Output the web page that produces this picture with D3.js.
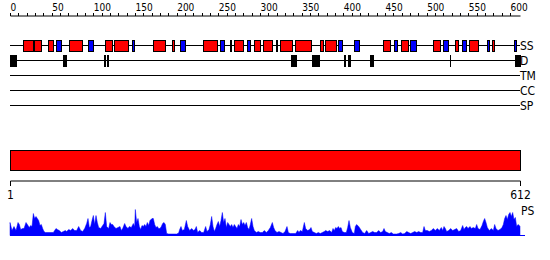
<!DOCTYPE html>
<html>
<head>
<meta charset="utf-8">
<script src="https://cdn.jsdelivr.net/npm/d3@7"></script>
<style>
  body { margin: 0; background: #fff; }
  text { font-family: "DejaVu Sans Condensed", "DejaVu Sans", sans-serif; font-stretch: condensed; fill: #000; }
</style>
</head>
<body>
<div class="chart"></div>
<script>
// sequence length and feature segments [start, end] in residues
var seqLength = 612;
var rulerLabels = [0, 50, 100, 150, 200, 250, 300, 350, 400, 450, 500, 550, 600];
var trackNames = ["SS", "D", "TM", "CC", "SP"];

var helices = [[16, 27], [29, 37], [46, 52], [71, 86], [114, 122], [125, 142], [171, 186], [194, 197],
  [231, 248], [269, 280], [293, 300], [304, 314], [324, 338], [342, 361], [372, 376], [378, 391],
  [448, 456], [469, 477], [507, 516], [534, 537], [551, 562], [578, 581]];
var strands = [[55, 61], [94, 99], [146, 149], [204, 210], [252, 257], [284, 288], [394, 398],
  [413, 419], [461, 464], [480, 487], [520, 526], [542, 547], [572, 575], [605, 607]];
var turns = [[264, 265], [319, 320]];
var disorder = [[0, 7], [64, 67], [113, 114], [116, 118], [337, 343], [362, 371], [401, 402],
  [405, 408], [432, 436], [528, 528], [606, 612]];
var domains = [[1, 612]];
var endLabels = [1, 612];

// PS profile: residue positions and scores
var psPos = [0, 2.4, 4.8, 7.2, 9.6, 11.2, 12.8, 15.2, 16.8, 19.2, 21.6, 23.2, 24.8, 26.4, 28, 29.6,
  31.2, 32.8, 34.4, 36, 37.6, 39.2, 40.8, 42.4, 52, 55.2, 56.8, 59.2, 61.6, 64, 66.4, 68, 70.4, 72.8,
  75.2, 77.6, 80, 82.4, 84.8, 87.2, 89.6, 92, 93.6, 95.2, 96.8, 98.4, 100, 101.6, 103.2, 104.8, 106.4,
  108.8, 111.2, 112.8, 114.4, 116, 118.4, 120, 121.6, 123.2, 124.8, 127.2, 129.6, 132, 133.6, 135.2,
  137.6, 139.2, 141.6, 143.2, 145.6, 148, 149.6, 150.4, 152, 153.6, 155.2, 156.8, 158.4, 160, 161.6,
  163.2, 164.8, 166.4, 168, 170.4, 172, 173.6, 175.2, 176.8, 178.4, 180, 181.6, 183.2, 184.8, 186.4,
  188, 190.4, 200, 202.4,
  203.6, 205.2, 206.8, 209.2, 211.6, 213.2, 215.6, 218, 220.4, 222, 223.6, 225.2, 227.6, 230, 232.4,
  234.8, 236.4, 238.8, 240.4, 242, 243.6, 245.2, 246.8, 248.4, 250, 251.6, 253.2, 254.8, 256.4, 258,
  259.6, 261.2, 262.8, 264.4, 266, 267.6, 269.2, 270.8, 272.4, 274, 275.6, 277.2, 278.8, 280.4, 282,
  283.6, 285.2, 286.8, 288.4, 290, 291.6, 293.2, 295.6, 298, 300.4, 302.8, 305.2, 307.6, 310, 312.4,
  314.8, 316.4, 318, 320.4, 322.8, 325.2, 327.6, 330, 332.4, 334, 336.4, 342.8, 345.2, 346.8, 348.4,
  350.8, 353.2, 354.8, 357.2, 359.6, 361.2, 362.8, 365.2, 367.6, 370, 372.4, 374.8, 377.2, 378.8,
  381.2, 383.6, 386, 387.6, 389.2, 390.8, 392.4, 394, 395.6, 397.2, 398.8, 401.2, 403.6, 405.2, 406.8,
  408.4, 410.8, 413.2,
  414.4, 416, 418.4, 420.8, 423.2, 425.6, 428, 430.4, 432.8, 435.2, 437.6, 440, 442.4, 444.8, 447.2,
  448.8, 450.4, 452.8, 455.2, 457.6, 460, 464, 466.4, 468.8, 471.2, 473.6, 476, 478.4, 480.8, 483.2,
  485.6, 488, 490.4, 492.8, 495.2, 496.8, 498.4, 500.8, 503.2, 505.6, 508, 510.4, 512.8, 515.2, 517.6,
  519.2, 520.8, 522.4, 524, 526.4, 528.8, 531.2, 533.6, 536, 538.4, 540.8, 543.2, 544.8, 546.4, 548,
  549.6, 552, 553.6, 556, 558.4, 560, 561.6, 564, 566.4, 568, 569.6, 571.2, 572.8, 575.2, 577.6, 580,
  581.6, 583.2, 585.6, 588, 590.4, 592, 593.6, 595.2, 596.8, 598.4, 600, 601.6, 603.2, 604.8, 606.4,
  608, 609.6, 611.2, 612];
var psVal = [13, 5, 9, 5, 13, 11, 6, 7, 7, 13, 10, 8, 10, 9, 22, 17,
  19, 17, 15, 10, 11, 7, 4, 3, 3, 7, 6, 5, 3, 4, 5, 4, 6, 5,
  7, 5, 5, 9, 5, 4, 7, 12, 17, 8, 9, 15, 20, 11, 20, 13, 8,
  7, 10, 12, 23, 9, 7, 13, 11, 11, 9, 7, 8, 9, 5, 7,
  12, 9, 7, 9, 8, 12, 9, 26, 13, 17, 9, 6, 10, 9, 11,
  9, 13, 10, 15, 17, 17, 11, 8, 9, 7, 7, 9, 12, 13, 11,
  2, 1.5, 1.5, 2.5,
  6, 9, 5, 6, 15, 9, 5, 7, 5, 6, 9, 3, 5, 3, 3,
  9, 4, 6, 11, 19, 9, 4, 7, 11, 14, 9, 15, 23, 13, 17,
  8, 13, 11, 9, 11, 8, 11, 9, 7, 11, 9, 16, 11, 13, 10,
  13, 8, 6, 11, 17, 9, 5, 3, 4, 3, 3, 5, 3, 5, 8,
  13, 8, 5, 3, 4, 3, 2, 4, 9, 3, 2, 2, 5, 3, 5,
  4, 13, 7, 5, 6, 8, 4, 3, 2, 3, 2, 3, 4, 5,
  4, 5, 3, 7, 5, 8, 7, 9, 7, 8, 4, 3, 3, 8, 15,
  8, 3, 2,
  9, 11, 9, 6, 3, 2, 5, 2, 3, 4, 3, 3, 5, 3, 4,
  7, 4, 3, 2, 3, 1.5, 1.5, 2, 3, 1.5, 2, 4, 3, 2, 3,
  4, 3, 4, 3, 3, 9, 5, 5, 4, 5, 7, 5, 7, 5, 8,
  5, 9, 7, 4, 5, 7, 5, 6, 7, 4, 5, 10, 6, 8, 9,
  7, 9, 7, 8, 7, 11, 7, 6, 10, 14, 17, 13, 8, 5, 7, 5,
  11, 7, 5, 6, 8, 11, 17, 20, 16, 21, 23, 19, 23, 16, 18,
  9, 11, 10, 9];

var svgWidth = 550;
var svgHeight = 260;

var svg = d3.select(".chart")
  .append("svg")
  .attr("width", svgWidth)
  .attr("height", svgHeight);

// residue scale shared by the tracks
var x = d3.scaleLinear().domain([0, seqLength]).range([10, 520]);

// ruler at the top
var rulerAxis = d3.axisTop(x)
  .tickValues(d3.range(0, 601, 10))
  .tickSize(3)
  .tickSizeOuter(0)
  .tickFormat(d => rulerLabels.indexOf(d) >= 0 ? d : "");

var ruler = svg.append("g")
  .attr("transform", "translate(0, 15.5)")
  .call(rulerAxis);
ruler.select(".domain").attr("stroke", "#000");
ruler.selectAll(".tick line").attr("stroke", "#000").attr("shape-rendering", "crispEdges");
ruler.selectAll(".tick text")
  .attr("text-anchor", "start")
  .attr("y", -4.5)
  .attr("dy", 0)
  .attr("font-family", null)
  .style("font-size", "10px");

// track lines and names
var trackY = d3.scalePoint().domain(trackNames).range([45, 105]);

svg.selectAll(".track")
  .data(trackNames)
  .enter()
  .append("line")
  .attr("x1", x(0))
  .attr("x2", x(seqLength))
  .attr("y1", d => trackY(d) + 0.5)
  .attr("y2", d => trackY(d) + 0.5)
  .attr("stroke", "#000")
  .attr("shape-rendering", "crispEdges");

svg.selectAll(".trackName")
  .data(trackNames)
  .enter()
  .append("text")
  .attr("x", 520)
  .attr("y", d => trackY(d) + 5)
  .style("font-size", "12px")
  .text(d => d);

// secondary structure and disorder boxes
function drawBoxes(data, track, fill) {
  svg.append("g")
    .selectAll("rect")
    .data(data)
    .enter()
    .append("rect")
    .attr("x", d => Math.round(x(d[0])) + 0.5)
    .attr("y", trackY(track) - 5 + 0.5)
    .attr("width", d => Math.max(0.01, Math.round(x(d[1])) - Math.round(x(d[0]))))
    .attr("height", 11)
    .attr("fill", fill)
    .attr("stroke", "#000")
    .attr("shape-rendering", "crispEdges");
}
drawBoxes(helices, "SS", "#ff0000");
drawBoxes(strands, "SS", "#0000ff");
drawBoxes(turns, "SS", "#000");
drawBoxes(disorder, "D", "#000");

// domain bar
var xb = d3.scaleLinear().domain([1, seqLength]).range([10, 520]);

svg.selectAll(".domainBar")
  .data(domains)
  .enter()
  .append("rect")
  .attr("x", d => xb(d[0]) + 0.5)
  .attr("y", 150.5)
  .attr("width", d => xb(d[1]) - xb(d[0]))
  .attr("height", 20)
  .attr("fill", "#ff0000")
  .attr("stroke", "#000")
  .attr("shape-rendering", "crispEdges");

var bottomAxis = d3.axisBottom(xb)
  .tickValues(endLabels)
  .tickSize(5)
  .tickSizeOuter(0);

var bottomRuler = svg.append("g")
  .attr("transform", "translate(0, 180.5)")
  .call(bottomAxis);
bottomRuler.select(".domain").attr("stroke", "#000");
bottomRuler.selectAll(".tick line").attr("stroke", "#000").attr("shape-rendering", "crispEdges");
bottomRuler.selectAll(".tick text")
  .attr("y", 18.5)
  .attr("dy", 0)
  .attr("font-family", null)
  .style("font-size", "12px");

// PS profile
var psData = psPos.map((p, i) => ({ pos: p, val: psVal[i] }));
var yPs = d3.scaleLinear().domain([0, 27]).range([235.5, 208.5]);

svg.append("line")
  .attr("x1", x(0))
  .attr("x2", 525)
  .attr("y1", 235)
  .attr("y2", 235)
  .attr("stroke", "#0000ff")
  .attr("shape-rendering", "crispEdges");

svg.append("path")
  .datum(psData)
  .attr("fill", "#0000ff")
  .attr("stroke", "#0000ff")
  .attr("stroke-width", 0.5)
  .attr("d", d3.area()
    .x(d => x(d.pos))
    .y0(yPs(0))
    .y1(d => yPs(d.val)));

svg.append("text")
  .attr("x", 521)
  .attr("y", 215)
  .style("font-size", "12px")
  .text("PS");
</script>
</body>
</html>
